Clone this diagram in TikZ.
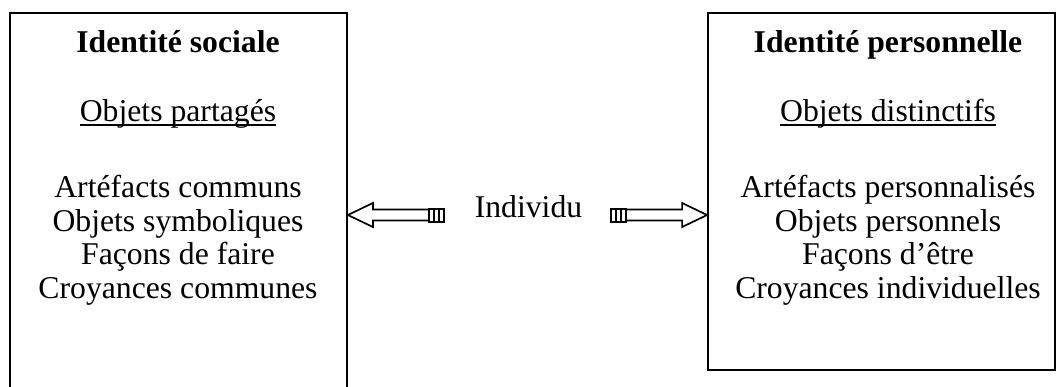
\documentclass[tikz,border=0pt]{standalone}
\usepackage{fontspec}
\setmainfont{Liberation Serif}
\usetikzlibrary{calc}
\newsavebox\ulbox
\newcommand\myul[1]{\sbox\ulbox{#1}\rlap{\rule[-4.5pt]{\wd\ulbox}{1.5pt}}\usebox\ulbox}
\begin{document}
\begin{tikzpicture}[x=1pt,y=-1pt,
  frame/.style={draw,line width=1.8pt,inner sep=0pt},
  txt/.style={anchor=base,inner sep=0pt,font=\fontsize{31.7}{33}\selectfont},
  head/.style={anchor=base,inner sep=0pt,font=\fontsize{31.7}{33}\selectfont\bfseries},
  blockarrow/.style={draw,line width=1.7pt,fill=white,line join=miter},
  tailpiece/.style={draw,line width=2pt}]
\useasboundingbox (0,0) rectangle (1057,386);
\clip (0,0) rectangle (1057,386);
% boxes
\node[frame,minimum width=337pt,minimum height=390pt] (soc) at (178.5,208) {};
\node[frame,minimum width=347pt,minimum height=357pt] (per) at (881.5,191.5) {};
% left texts
\node[head] (socT) at (178,52) {Identité sociale};
\node[txt] (socS) at (178,121) {\myul{Objets partagés}};
\node[txt] (soc1) at (178,197) {Artéfacts communs};
\node[txt] (soc2) at (178,231) {Objets symboliques};
\node[txt] (soc3) at (178,264) {Façons de faire};
\node[txt] (soc4) at (178,298) {Croyances communes};
% right texts
\node[head] (perT) at (888,52) {Identité personnelle};
\node[txt] (perS) at (888,121) {\myul{Objets distinctifs}};
\node[txt] (per1) at (888,197) {Artéfacts personnalisés};
\node[txt] (per2) at (888,231) {Objets personnels};
\node[txt] (per3) at (888,264) {Façons d’être};
\node[txt] (per4) at (888,298) {Croyances individuelles};
% centre
\node[txt] (ind) at (528.5,217) {Individu};
% arrow tips
\coordinate (lt) at (soc.east |- 0,215);
\coordinate (rt) at (per.west |- 0,215);
% left arrow
\draw[blockarrow] (lt) -- ++(25,-12) -- ++(0,6.5) -- ++(56,0) -- ++(0,11) -- ++(-56,0) -- ++(0,6.5) -- cycle;
\draw[tailpiece] ($(lt)+(81,-6.5)$) rectangle ++(5,13);
\draw[tailpiece] ($(lt)+(86,-6.5)$) rectangle ++(5,13);
\draw[tailpiece] ($(lt)+(91,-6.5)$) rectangle ++(5,13);
% right arrow
\draw[blockarrow] (rt) -- ++(-25,-12) -- ++(0,6.5) -- ++(-56,0) -- ++(0,11) -- ++(56,0) -- ++(0,6.5) -- cycle;
\draw[tailpiece] ($(rt)+(-81,-6.5)$) rectangle ++(-5,13);
\draw[tailpiece] ($(rt)+(-86,-6.5)$) rectangle ++(-5,13);
\draw[tailpiece] ($(rt)+(-91,-6.5)$) rectangle ++(-5,13);
\end{tikzpicture}
\end{document}
